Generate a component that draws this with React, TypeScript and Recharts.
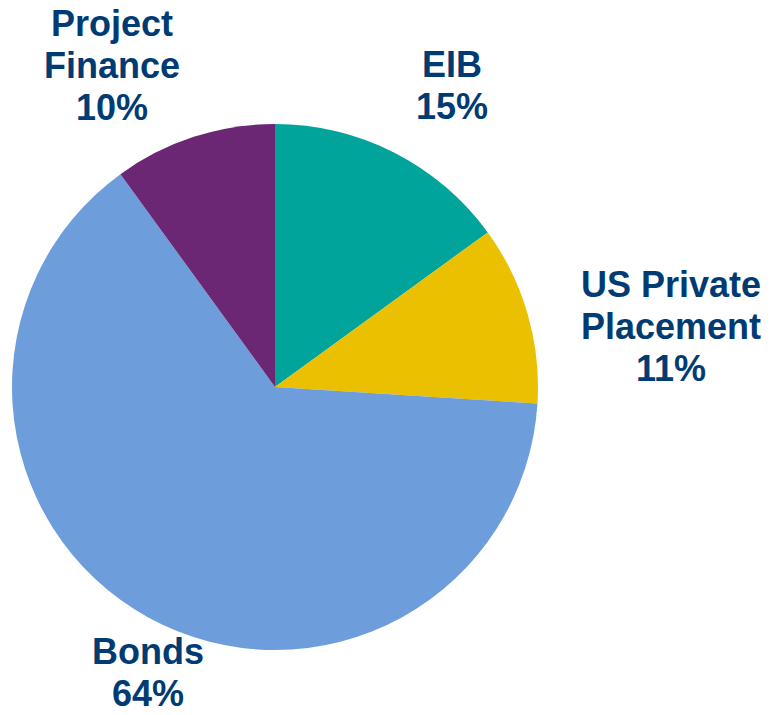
import React from 'react';
import { PieChart, Pie, Cell } from 'recharts';

const categories = ['EIB', 'US Private Placement', 'Bonds', 'Project Finance'];
const shares = [15, 11, 64, 10];
const labelLines = [['EIB'], ['US Private', 'Placement'], ['Bonds'], ['Project', 'Finance']];
const sliceColors = ['#00A49A', '#EAC000', '#6D9EDB', '#6B2774'];

const data = categories.map((name, i) => ({ name, value: shares[i], lines: labelLines[i] }));

// first-baseline offsets of each label block, relative to the pie centre
const labelOffset: Record<string, [number, number]> = {
  EIB: [177, -310],
  'US Private Placement': [396, -90],
  Bonds: [-127, 277],
  'Project Finance': [-163, -351],
};

const renderLabel = ({ cx, cy, index }: any) => {
  const d = data[index];
  const [dx, dy] = labelOffset[d.name];
  const rows = [...d.lines, `${d.value}%`];
  return (
    <text
      x={cx + dx}
      y={cy + dy}
      textAnchor="middle"
      fill="#003B73"
      fontFamily="'Liberation Sans', Arial, sans-serif"
      fontWeight="bold"
      fontSize={36}
    >
      {rows.map((r, i) => (
        <tspan key={i} x={cx + dx} dy={i === 0 ? 0 : 42}>
          {r}
        </tspan>
      ))}
    </text>
  );
};

export default function App() {
  return (
    <div style={{ position: 'absolute', left: 0, top: 0, background: '#fff' }}>
      <PieChart width={773} height={715} margin={{ top: 0, right: 0, bottom: 0, left: 0 }}>
        <Pie
          data={data}
          dataKey="value"
          nameKey="name"
          cx={275}
          cy={387}
          outerRadius={263}
          startAngle={90}
          endAngle={-270}
          stroke="none"
          labelLine={false}
          label={renderLabel}
          isAnimationActive={false}
        >
          {data.map((d, i) => (
            <Cell key={d.name} fill={sliceColors[i]} />
          ))}
        </Pie>
      </PieChart>
    </div>
  );
}
